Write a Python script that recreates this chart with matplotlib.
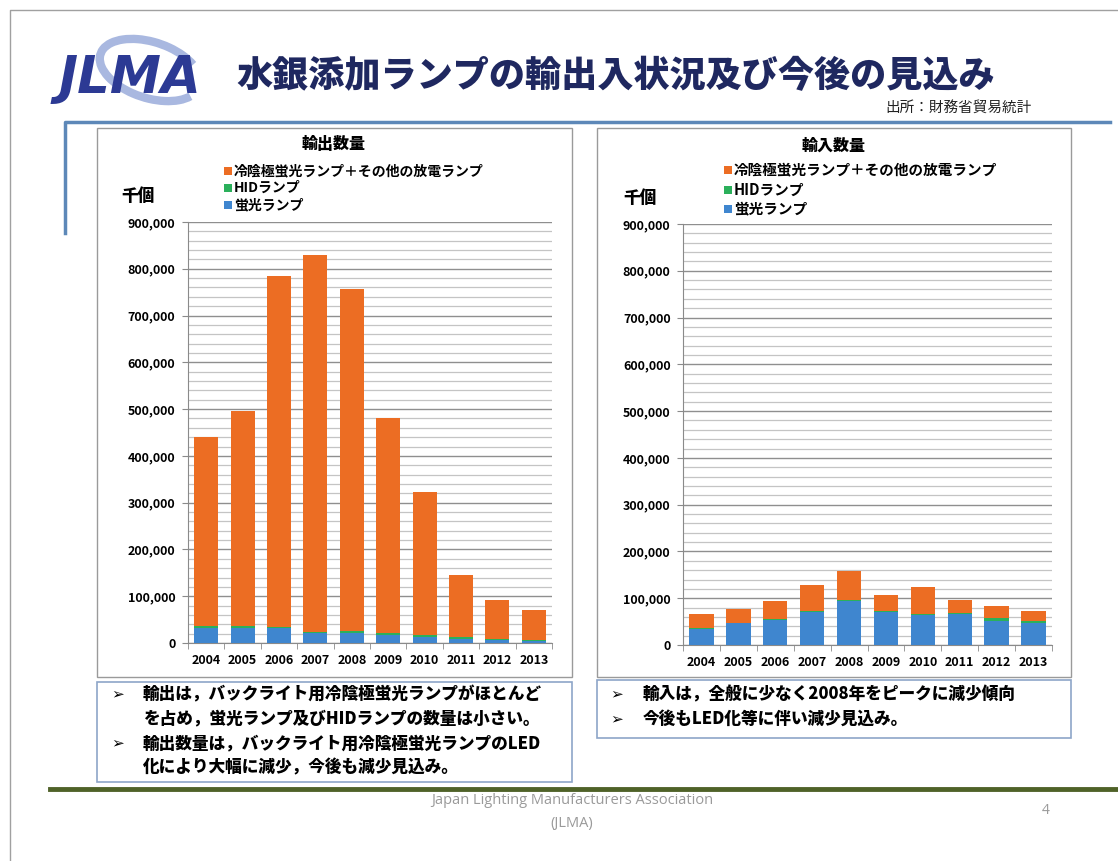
import numpy as np
import matplotlib
matplotlib.use('Agg')
import matplotlib.pyplot as plt
from matplotlib.patches import Rectangle, Arc
from matplotlib.ticker import MultipleLocator, FuncFormatter

plt.rcParams['font.family'] = ['Noto Sans CJK JP', 'DejaVu Sans']

# data (千個)
years = ['2004', '2005', '2006', '2007', '2008', '2009', '2010', '2011', '2012', '2013']
series_names = ['蛍光ランプ', 'HIDランプ', '冷陰極蛍光ランプ＋その他の放電ランプ']

export_fl = [33000, 32000, 31000, 21000, 21000, 17000, 12000, 9000, 6000, 4000]
export_hid = [4000, 4000, 4000, 3000, 4000, 4000, 5000, 3000, 3000, 2000]
export_total = [440000, 496000, 785000, 829000, 757000, 481000, 323000, 145000, 92000, 70000]

import_fl = [34000, 46000, 53000, 71000, 94000, 71000, 64000, 66000, 52000, 47000]
import_hid = [2000, 2000, 2000, 2000, 2000, 2000, 3000, 2000, 5000, 4000]
import_total = [66000, 78000, 95000, 129000, 159000, 107000, 125000, 97000, 83000, 72000]

export_other = [t - a - b for t, a, b in zip(export_total, export_fl, export_hid)]
import_other = [t - a - b for t, a, b in zip(import_total, import_fl, import_hid)]

colors = ['#3f86cf', '#2bb05b', '#ec6d23']

W, H = 1118, 861
fig = plt.figure(figsize=(W / 100, H / 100), dpi=100)

# overlay for slide decoration, in pixel coordinates
deco = fig.add_axes([0, 0, 1, 1])
deco.set_xlim(0, W)
deco.set_ylim(H, 0)
deco.axis('off')


def px_axes(x0, y0, x1, y1):
    return fig.add_axes([x0 / W, 1 - y1 / H, (x1 - x0) / W, (y1 - y0) / H])


# slide frame
deco.plot([10, 10, W], [H, 10, 10], color='#a0a0a0', lw=1)

# logo
deco.add_patch(Arc((150, 70), 104, 56, angle=18, theta1=15, theta2=335,
                   color='#a9b8e0', lw=6))
deco.text(130, 79, 'JLMA', fontsize=37, fontweight='heavy', fontstyle='italic',
          family='DejaVu Sans', color='#2c3a94', ha='center', va='center')

deco.text(616, 76, '水銀添加ランプの輸出入状況及び今後の見込み', fontsize=26,
          fontweight='heavy', color='#1f2860', ha='center', va='center')
deco.text(1032, 108, '出所：財務省貿易統計', fontsize=10.5, color='#222222',
          ha='right', va='center')

# blue rule
deco.plot([65, 65, W - 8], [233, 122, 122], color='#5d88b8', lw=2.5)

# panels
for x0, x1 in [(97, 572), (597, 1071)]:
    deco.add_patch(Rectangle((x0, 128), x1 - x0, 549, fill=False,
                             ec='#9a9a9a', lw=1))

# footer line and text
deco.plot([50, W], [789, 789], color='#4f6228', lw=3.5)
deco.text(572, 800, 'Japan Lighting Manufacturers Association', fontsize=10.5,
          family='Open Sans', color='#9a9a9a', ha='center', va='center')
deco.text(572, 823, '(JLMA)', fontsize=10.5, family='Open Sans',
          color='#9a9a9a', ha='center', va='center')
deco.text(1046, 811, '4', fontsize=10, family='Open Sans', color='#9a9a9a',
          ha='center', va='center')


def draw_chart(ax, fl, hid, other):
    x = np.arange(len(years))
    ax.bar(x, fl, width=0.66, color=colors[0], zorder=3)
    ax.bar(x, hid, width=0.66, bottom=fl, color=colors[1], zorder=3)
    base = [a + b for a, b in zip(fl, hid)]
    ax.bar(x, other, width=0.66, bottom=base, color=colors[2], zorder=3)
    ax.set_xlim(-0.5, len(years) - 0.5)
    ax.set_ylim(0, 900000)
    ax.yaxis.set_major_locator(MultipleLocator(100000))
    ax.yaxis.set_minor_locator(MultipleLocator(20000))
    ax.yaxis.set_major_formatter(FuncFormatter(lambda v, p: f'{int(v):,}'))
    ax.grid(axis='y', which='major', color='#8f8f8f', lw=1.0, zorder=0)
    ax.grid(axis='y', which='minor', color='#c4c4c4', lw=0.9, zorder=0)
    ax.set_xticks(x)
    ax.set_xticklabels(years, fontsize=9, fontweight='bold')
    ax.set_xticks(np.arange(-0.5, len(years)), minor=True)
    ax.tick_params(axis='x', which='major', length=0, pad=8)
    ax.tick_params(axis='x', which='minor', length=4, color='#8a8a8a')
    ax.tick_params(axis='y', which='major', length=4, color='#8a8a8a',
                   labelsize=9, pad=5)
    ax.tick_params(axis='y', which='minor', length=0)
    for lab in ax.get_yticklabels():
        lab.set_fontweight('bold')
    for s in ['top', 'right']:
        ax.spines[s].set_visible(False)
    ax.spines['left'].set_color('#8a8a8a')
    ax.spines['bottom'].set_color('#8a8a8a')


ax1 = px_axes(188, 222, 552, 643)
draw_chart(ax1, export_fl, export_hid, export_other)
ax2 = px_axes(683, 224, 1052, 645)
draw_chart(ax2, import_fl, import_hid, import_other)

# chart titles, unit labels, legends
deco.text(334, 144, '輸出数量', fontsize=11.5, fontweight='heavy', ha='center', va='center')
deco.text(834, 146, '輸入数量', fontsize=11.5, fontweight='heavy', ha='center', va='center')
deco.text(138, 196, '千個', fontsize=12, fontweight='heavy', ha='center', va='center')
deco.text(640, 198, '千個', fontsize=12, fontweight='heavy', ha='center', va='center')

legend_order = [2, 1, 0]
for lx, ly0, dy, fs in [(224, 171, 17, 10), (724, 170, 19.5, 10.5)]:
    for k, i in enumerate(legend_order):
        y = ly0 + k * dy
        deco.add_patch(Rectangle((lx, y - 4), 8, 8, color=colors[i], lw=0))
        deco.text(lx + 10, y, series_names[i], fontsize=fs, fontweight='bold',
                  ha='left', va='center')

# comment boxes
deco.add_patch(Rectangle((97, 682), 475, 100, fill=False, ec='#8ea5c8', lw=1.2))
deco.add_patch(Rectangle((597, 680), 474, 58, fill=False, ec='#8ea5c8', lw=1.2))

left_lines = [
    (True, '輸出は，バックライト用冷陰極蛍光ランプがほとんど'),
    (False, 'を占め，蛍光ランプ及びHIDランプの数量は小さい。'),
    (True, '輸出数量は，バックライト用冷陰極蛍光ランプのLED'),
    (False, '化により大幅に減少，今後も減少見込み。'),
]
for k, (bullet, line) in enumerate(left_lines):
    y = 694 + k * 24.5
    if bullet:
        deco.text(118, y, '➢', fontsize=11, family='DejaVu Sans',
                  ha='center', va='center')
    deco.text(143, y, line, fontsize=12, fontweight='heavy', ha='left', va='center')

right_lines = ['輸入は，全般に少なく2008年をピークに減少傾向',
               '今後もLED化等に伴い減少見込み。']
for k, line in enumerate(right_lines):
    y = 694 + k * 24.5
    deco.text(617, y, '➢', fontsize=11, family='DejaVu Sans',
              ha='center', va='center')
    deco.text(643, y, line, fontsize=12, fontweight='heavy', ha='left', va='center')

fig.savefig('out.png', dpi=100)
